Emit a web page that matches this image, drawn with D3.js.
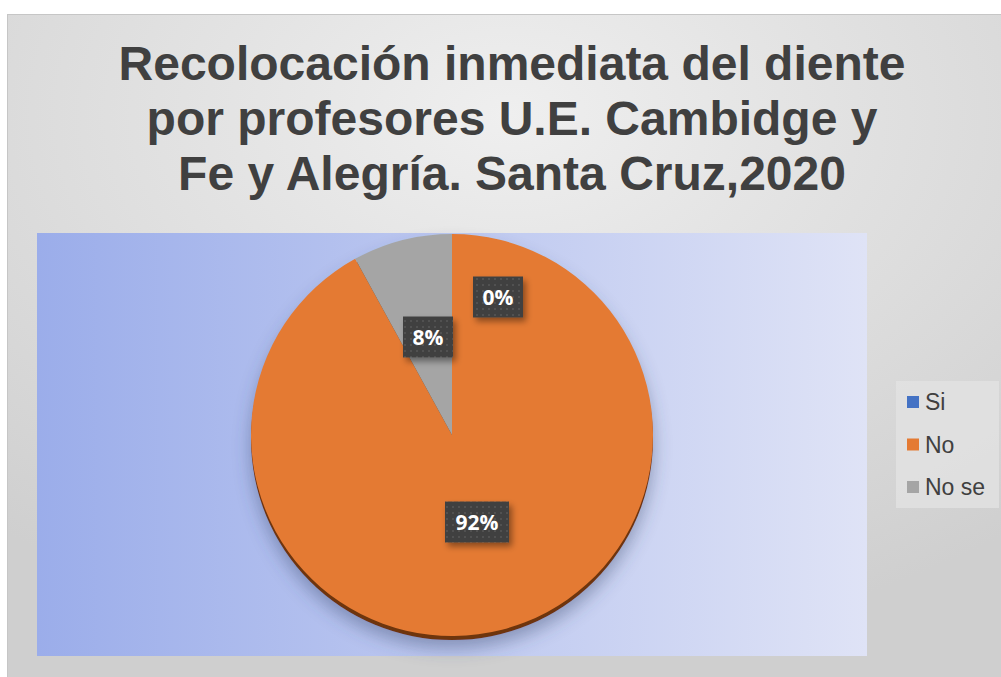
<!DOCTYPE html>
<html><head><meta charset="utf-8">
<script src="https://cdn.jsdelivr.net/npm/d3@7"></script>
<style>body{margin:0;background:#fff;}svg{display:block;}</style>
</head><body>
<svg id="c" width="1001" height="677"></svg>
<script>
const categories = ["Si", "No", "No se"];
const values = [0, 92, 8];
const labels = ["0%", "92%", "8%"];
const colors = ["#4472C4", "#E47A33", "#A5A5A5"];
const titleLines = ["Recolocación inmediata del diente", "por profesores U.E. Cambidge y", "Fe y Alegría. Santa Cruz,2020"];

const svg = d3.select("#c");
const defs = svg.append("defs");
const bg = defs.append("radialGradient").attr("id","bg").attr("cx","0.5").attr("cy","0.15").attr("r","0.8");
bg.append("stop").attr("offset","0").attr("stop-color","#efefef");
bg.append("stop").attr("offset","1").attr("stop-color","#cfcfcf");
const pg = defs.append("linearGradient").attr("id","pg").attr("x1","0").attr("x2","1").attr("y1","0").attr("y2","0");
pg.append("stop").attr("offset","0").attr("stop-color","#9badea");
pg.append("stop").attr("offset","1").attr("stop-color","#dfe3f6");
const sh = defs.append("filter").attr("id","sh").attr("x","-20%").attr("y","-20%").attr("width","140%").attr("height","140%");
sh.append("feDropShadow").attr("dx",0).attr("dy",8).attr("stdDeviation",9).attr("flood-color","#3a4a70").attr("flood-opacity",0.45);
const lsh = defs.append("filter").attr("id","lsh").attr("x","-30%").attr("y","-30%").attr("width","160%").attr("height","160%");
lsh.append("feDropShadow").attr("dx",3).attr("dy",4).attr("stdDeviation",3).attr("flood-color","#000").attr("flood-opacity",0.4);
const pat = defs.append("pattern").attr("id","dots").attr("width",6).attr("height",6).attr("patternUnits","userSpaceOnUse");
pat.append("rect").attr("width",6).attr("height",6).attr("fill","#404040");
pat.append("circle").attr("cx",3).attr("cy",3).attr("r",1.1).attr("fill","#555");

// outer chart area
svg.append("rect").attr("x",7.5).attr("y",14.5).attr("width",1000).attr("height",670)
  .attr("fill","url(#bg)").attr("stroke","#c6c6c6");

// title
svg.append("g").selectAll("text").data(titleLines).join("text")
  .attr("x",512).attr("y",(d,i)=>80+i*55)
  .attr("text-anchor","middle")
  .attr("font-family","Liberation Sans, Arial, sans-serif")
  .attr("font-weight","bold").attr("font-size",48).attr("fill","#404040")
  .text(d=>d);

// plot area
svg.append("rect").attr("x",37).attr("y",233).attr("width",830).attr("height",423).attr("fill","url(#pg)");

// pie
const cx = 452, cy = 435, R = 201;
const pie = d3.pie().sort(null).value(d=>d)(values);
const arc = d3.arc().innerRadius(0).outerRadius(R);
const g = svg.append("g").attr("transform",`translate(${cx},${cy})`);
// rim
g.append("ellipse").attr("cx",0).attr("cy",4).attr("rx",R).attr("ry",R).attr("fill","#6e3410").attr("filter","url(#sh)");
g.selectAll("path.s").data(pie).join("path").attr("class","s")
  .attr("d",arc).attr("fill",(d,i)=>colors[i]);

// labels
const labelPos = [[498,297],[477,522],[428,337]];
const lg = svg.append("g");
pie.forEach((d,i)=>{
  const w = labels[i].length>2 ? 64 : 50, h = 41;
  const [x,y] = labelPos[i];
  lg.append("rect").attr("x",x-w/2).attr("y",y-h/2).attr("width",w).attr("height",h)
    .attr("fill","url(#dots)").attr("filter","url(#lsh)");
  lg.append("text").attr("x",x).attr("y",y+7.5).attr("text-anchor","middle")
    .attr("font-family","Open Sans, Liberation Sans, sans-serif").attr("font-weight","bold")
    .attr("font-size",21).attr("fill","#fff").text(labels[i]);
});

// legend
const leg = svg.append("g");
leg.append("rect").attr("x",896).attr("y",381).attr("width",103).attr("height",127).attr("fill","#e2e2e2").attr("opacity",0.8);
categories.forEach((c,i)=>{
  const y = 402 + i*42.5;
  leg.append("rect").attr("x",907).attr("y",y-6).attr("width",12).attr("height",12).attr("fill",colors[i]);
  leg.append("text").attr("x",925).attr("y",y+8).attr("font-family","Liberation Sans, Arial, sans-serif")
    .attr("font-size",23).attr("fill","#404040").text(c);
});
</script>
</body></html>
